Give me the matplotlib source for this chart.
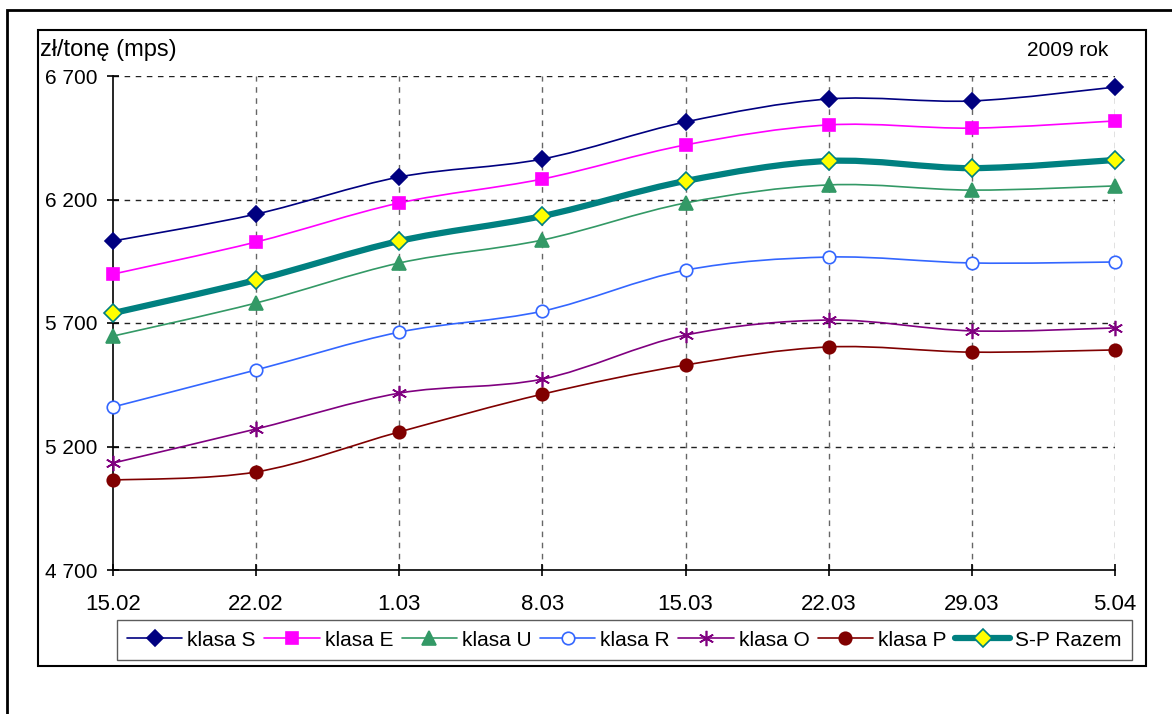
import matplotlib.pyplot as plt
from matplotlib.path import Path
from matplotlib.patches import PathPatch, Rectangle
from matplotlib.lines import Line2D

plt.rcParams['font.family'] = ['Liberation Sans', 'DejaVu Sans']

dates = ["15.02", "22.02", "1.03", "8.03", "15.03", "22.03", "29.03", "5.04"]
klasa_s = [6032, 6141, 6291, 6364, 6514, 6607, 6599, 6655]
klasa_e = [5898, 6028, 6186, 6283, 6421, 6502, 6489, 6518]
klasa_u = [5647, 5781, 5943, 6036, 6186, 6259, 6238, 6255]
klasa_r = [5360, 5510, 5663, 5748, 5914, 5967, 5943, 5947]
klasa_o = [5133, 5271, 5416, 5473, 5651, 5712, 5668, 5680]
klasa_p = [5064, 5097, 5259, 5412, 5530, 5603, 5582, 5591]
razem = [5740, 5874, 6032, 6133, 6275, 6356, 6327, 6360]
yticks = [4700, 5200, 5700, 6200, 6700]

# name, values, color, line width, marker, marker size, face, edge
series = [
    ("klasa S", klasa_s, "#000080", 1.2, "D", 8, "#000080", "#000080"),
    ("klasa E", klasa_e, "#FF00FF", 1.2, "s", 9, "#FF00FF", "#FF00FF"),
    ("klasa U", klasa_u, "#339966", 1.2, "^", 10, "#339966", "#339966"),
    ("klasa R", klasa_r, "#3366FF", 1.2, "o", 9, "white", "#3366FF"),
    ("klasa O", klasa_o, "#800080", 1.2, (6, 2, 0), 11, "#800080", "#800080"),
    ("klasa P", klasa_p, "#800000", 1.2, "o", 9, "#800000", "#800000"),
    ("S-P Razem", razem, "#008080", 4.5, "D", 9, "#FFFF00", "#008080"),
]


def smooth_path(xs, ys):
    # Excel-like smoothed line: cubic Bezier segments through the points
    n = len(xs)
    verts = [(xs[0], ys[0])]
    codes = [Path.MOVETO]
    for i in range(n - 1):
        x0, y0 = (xs[i - 1], ys[i - 1]) if i > 0 else (xs[i], ys[i])
        x1, y1 = xs[i], ys[i]
        x2, y2 = xs[i + 1], ys[i + 1]
        x3, y3 = (xs[i + 2], ys[i + 2]) if i + 2 < n else (x2, y2)
        c1 = (x1 + (x2 - x0) / 6, y1 + (y2 - y0) / 6)
        c2 = (x2 - (x3 - x1) / 6, y2 - (y3 - y1) / 6)
        verts += [c1, c2, (x2, y2)]
        codes += [Path.CURVE4] * 3
    return Path(verts, codes)


fig = plt.figure(figsize=(11.72, 7.14), dpi=100)
ax = fig.add_axes([113 / 1172, 1 - 570 / 714, 1002 / 1172, 494 / 714])

x = list(range(len(dates)))
handles = []
for name, vals, col, lw, mk, ms, fc, ec in series:
    ax.add_patch(PathPatch(smooth_path(x, vals), facecolor="none",
                           edgecolor=col, lw=lw, zorder=3, clip_on=False))
    ax.plot(x, vals, linestyle="none", marker=mk, markersize=ms,
            markerfacecolor=fc, markeredgecolor=ec, markeredgewidth=1.2,
            zorder=4, clip_on=False)
    handles.append(Line2D([], [], color=col, lw=lw, marker=mk, markersize=ms,
                          markerfacecolor=fc, markeredgecolor=ec,
                          markeredgewidth=1.2, solid_capstyle="round"))

ax.set_xlim(0, len(dates) - 1)
ax.set_ylim(4700, 6700)
ax.set_xticks(x)
ax.set_xticklabels(dates, fontsize=16)
ax.set_yticks(yticks)
ax.set_yticklabels([f"{v:,}".replace(",", " ") for v in yticks], fontsize=15)
ax.tick_params(direction="inout", length=8, width=1.2)
ax.tick_params(axis="x", pad=13)
ax.tick_params(axis="y", pad=7)

for v in yticks[1:]:
    ax.axhline(v, color="#222222", lw=1, ls=(0, (4, 4)), zorder=1)
for xi in x[1:]:
    ax.axvline(xi, color="#666666", lw=1, ls=(0, (4, 4)), zorder=1)

ax.spines["top"].set_visible(False)
ax.spines["right"].set_visible(False)
ax.spines["left"].set_linewidth(1.2)
ax.spines["bottom"].set_linewidth(1.2)

fig.text(40 / 1172, 1 - 50 / 714, "zł/tonę (mps)", fontsize=17, va="center")
fig.text(1108 / 1172, 1 - 50 / 714, "2009 rok", fontsize=15, va="center", ha="right")

leg = fig.legend(handles, [s[0] for s in series], ncol=7, loc="center",
                 bbox_to_anchor=((110 + 1139) / 2 / 1172, 1 - 640 / 714),
                 fontsize=15, frameon=True, fancybox=False, handlelength=2.65,
                 columnspacing=0.4, handletextpad=0.25, borderpad=0.5,
                 borderaxespad=0)
leg.get_frame().set_edgecolor("#333333")
leg.get_frame().set_linewidth(1.0)

fig.add_artist(Rectangle((38 / 1172, 1 - 666 / 714), 1108 / 1172, 636 / 714,
                         transform=fig.transFigure, fill=False, lw=1.5,
                         edgecolor="black"))
fig.add_artist(Rectangle((7 / 1172, -0.05), 1.2, 1 - 10 / 714 + 0.05,
                         transform=fig.transFigure, fill=False, lw=2,
                         edgecolor="black"))

fig.savefig("out.png", dpi=100)
